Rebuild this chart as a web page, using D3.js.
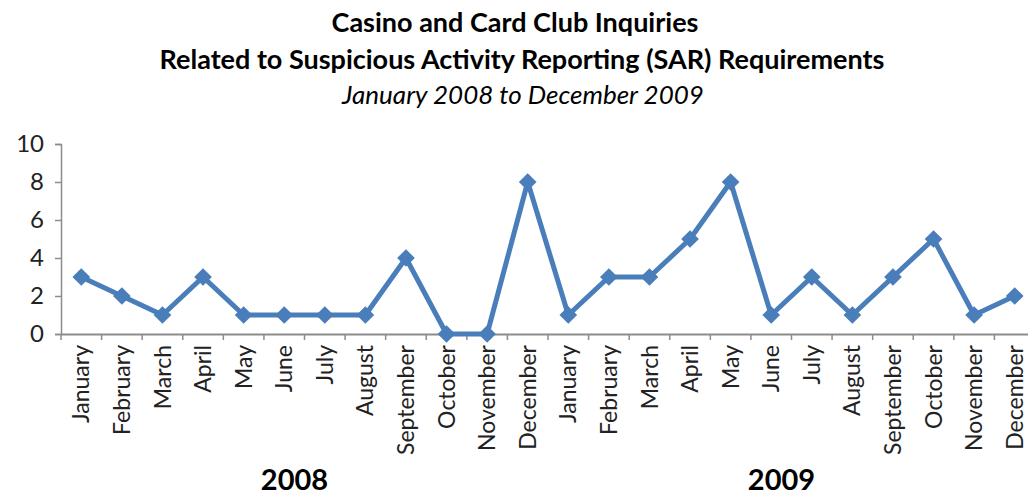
<!DOCTYPE html>
<html><head><meta charset="utf-8">
<script src="https://cdn.jsdelivr.net/npm/d3@7"></script>
<style>body{margin:0;background:#fff;}svg{display:block;}</style>
</head><body>
<svg id="c" width="1028" height="496"></svg>
<script>
const months = ["January","February","March","April","May","June","July","August","September","October","November","December"];
const categories = [...months.map(m=>"2008 "+m), ...months.map(m=>"2009 "+m)];
const values = [3,2,1,3,1,1,1,1,4,0,0,8,1,3,3,5,8,1,3,1,3,5,1,2];
const yTicks = [0,2,4,6,8,10];
const years = ["2008","2009"];
const titleLines = ["Casino and Card Club Inquiries","Related to Suspicious Activity Reporting (SAR) Requirements"];
const subtitle = "January 2008 to December 2009";

(function(){
const svg = d3.select("#c");
const font = "Lato, 'Open Sans', sans-serif";
const mLeft = 61, mRight = 1035, mTop = 144, mBottom = 334;
const x = d3.scaleBand().domain(categories).range([mLeft,mRight]);
const y = d3.scaleLinear().domain([0,10]).range([mBottom,mTop]);
const axisColor = "#8c8c8c";

svg.append("text").attr("x",515).attr("y",32).attr("text-anchor","middle")
  .attr("font-family",font).attr("font-weight","bold").attr("font-size",27).text(titleLines[0]);
svg.append("text").attr("x",522).attr("y",69).attr("text-anchor","middle")
  .attr("font-family",font).attr("font-weight","bold").attr("font-size",27).text(titleLines[1]);
svg.append("text").attr("x",523).attr("y",104).attr("text-anchor","middle")
  .attr("font-family",font).attr("font-style","italic").attr("font-size",26).text(subtitle);

// y axis
const ya = svg.append("g").attr("transform",`translate(${mLeft},0)`)
  .call(d3.axisLeft(y).tickValues(yTicks).tickSize(6).tickPadding(11).tickFormat(d3.format("d")));
ya.select(".domain").attr("stroke",axisColor).attr("stroke-width",1.5);
ya.selectAll(".tick line").attr("stroke",axisColor).attr("stroke-width",1.5);
ya.selectAll("text").attr("font-family",font).attr("font-size",24).attr("fill","#222");

// x axis
const xa = svg.append("g").attr("transform",`translate(0,${mBottom})`)
  .call(d3.axisBottom(x).tickSize(0).tickFormat(d=>d.split(" ")[1]));
xa.select(".domain").attr("stroke",axisColor).attr("stroke-width",2);
xa.selectAll(".tick text").attr("font-family",font).attr("font-size",23).attr("fill","#222")
  .attr("transform","rotate(-90)").attr("text-anchor","end").attr("dx","-11").attr("dy","0.35em").attr("y",0).attr("x",0);
// boundary ticks
const bounds = categories.map(c=>x(c)).concat([mRight]);
svg.append("g").selectAll("line").data(bounds).join("line")
  .attr("x1",d=>d).attr("x2",d=>d).attr("y1",mBottom).attr("y2",mBottom+6)
  .attr("stroke",axisColor).attr("stroke-width",1.5);

// year labels
years.forEach((yr,i)=>{
  const cs = categories.slice(i*12,(i+1)*12);
  const cx = (x(cs[0]) + x(cs[11]) + x.bandwidth())/2 - 10;
  svg.append("text").attr("x",cx).attr("y",490).attr("text-anchor","middle")
    .attr("font-family",font).attr("font-weight","bold").attr("font-size",29).text(yr);
});

// line
const color = "#4a7ebb";
const cxf = (d,i)=>x(categories[i]) + x.bandwidth()/2;
svg.append("path").datum(values)
  .attr("d", d3.line().x(cxf).y(d=>y(d)))
  .attr("fill","none").attr("stroke",color).attr("stroke-width",5).attr("stroke-linejoin","round");
svg.append("g").selectAll("path").data(values).join("path")
  .attr("d", d3.symbol().type(d3.symbolDiamond2).size(200))
  .attr("transform",(d,i)=>`translate(${cxf(d,i)},${y(d)})`)
  .attr("fill",color);
})();
</script>
</body></html>
